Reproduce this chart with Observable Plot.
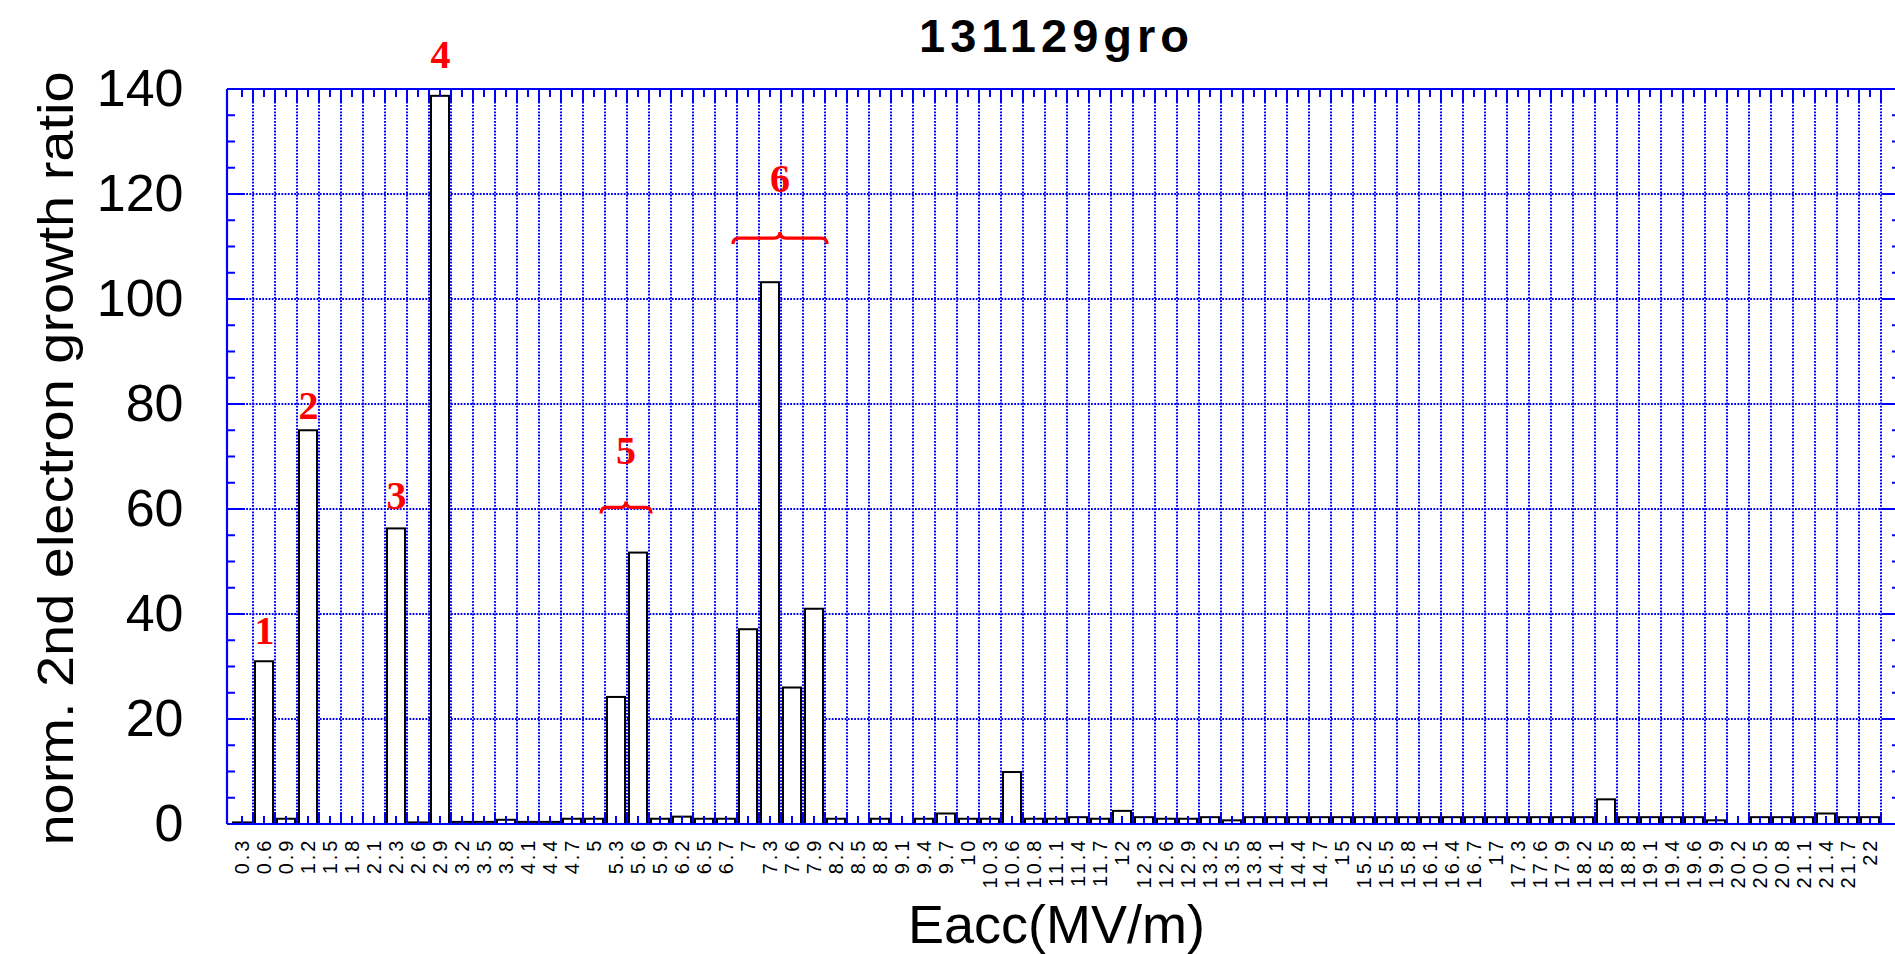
<!DOCTYPE html>
<html><head><meta charset="utf-8">
<script src="https://cdn.jsdelivr.net/npm/d3@7"></script>
<script src="https://cdn.jsdelivr.net/npm/@observablehq/plot@0.6"></script>
<style>
html,body{margin:0;padding:0;background:#fff;overflow:hidden;}
</style></head><body><div id="chart"></div>
<script>
// ---- data ----
const eacc = ["0.3","0.6","0.9","1.2","1.5","1.8","2.1","2.3","2.6","2.9",
  "3.2","3.5","3.8","4.1","4.4","4.7","5","5.3","5.6","5.9",
  "6.2","6.5","6.7","7","7.3","7.6","7.9","8.2","8.5","8.8",
  "9.1","9.4","9.7","10","10.3","10.6","10.8","11.1","11.4","11.7",
  "12","12.3","12.6","12.9","13.2","13.5","13.8","14.1","14.4","14.7",
  "15","15.2","15.5","15.8","16.1","16.4","16.7","17","17.3","17.6",
  "17.9","18.2","18.5","18.8","19.1","19.4","19.6","19.9","20.2","20.5",
  "20.8","21.1","21.4","21.7","22"];
const ratio = [0.3,31,1.0,75,0,0,0,56.3,0.3,138.7,
  0.4,0.4,0.8,0.4,0.4,1.0,1.0,24.2,51.7,1.0,
  1.4,1.0,1.0,37.1,103.2,26,41,1.0,0,1.0,
  0,1.0,2.0,1.0,1.0,9.9,1.0,1.0,1.3,1.0,
  2.5,1.3,1.0,1.0,1.3,0.7,1.3,1.3,1.3,1.3,
  1.3,1.3,1.3,1.3,1.3,1.3,1.3,1.3,1.3,1.3,
  1.3,1.3,4.7,1.3,1.3,1.3,1.3,0.7,0,1.3,
  1.3,1.3,2.0,1.3,1.3];
const yTicks = [0,20,40,60,80,100,120,140];
const peakLabels = ["1","2","3","4"];
const peakAt = ["0.6","1.2","2.3","2.9"];
const peakLabelY = [36.8,79.7,62.6,146.6];
const braceLabels = ["5","6"];
const braceFrom = ["5.3","7"];
const braceTo = ["5.6","7.9"];
const braceY = [60.3,111.6];
const braceLabelY = [71.3,123.1];
const titleText = "131129gro";
const xTitle = "Eacc(MV/m)";
const yTitle = "norm. 2nd electron growth ratio";

const BLUE = "#0000ff", RED = "#ff0000";
const data = eacc.map((e,i)=>({e, v: ratio[i]}));

function line(g, x1, y1, x2, y2, opts={}) {
  const l = g.append("line").attr("x1",x1).attr("y1",y1).attr("x2",x2).attr("y2",y2)
    .attr("stroke", opts.stroke || BLUE).attr("stroke-width", opts.width || 2);
  if (opts.dash) l.attr("stroke-dasharray", opts.dash);
  return l;
}

function gridMark(index, scales, values, dims) {
  const x = scales.x, y = scales.y;
  const g = d3.create("svg:g").attr("aria-label","grid");
  const bw = x.bandwidth(), step = x.step();
  const top = dims.marginTop, bottom = dims.height - dims.marginBottom;
  const left = dims.marginLeft, right = dims.width;
  eacc.forEach(c => {
    const bx = x(c) + bw/2 + step/2;
    line(g, bx, top, bx, bottom, {width:2, dash:"1.8 1.4"});
  });
  yTicks.filter(t => t > 0 && t < 140).forEach(t => {
    line(g, left, y(t), right, y(t), {width:2, dash:"1.8 1.4"});
  });
  return g.node();
}

function frameMark(index, scales, values, dims) {
  const x = scales.x, y = scales.y;
  const g = d3.create("svg:g").attr("aria-label","frame");
  const bw = x.bandwidth(), step = x.step();
  const top = dims.marginTop, bottom = dims.height - dims.marginBottom;
  const left = dims.marginLeft, right = dims.width;
  eacc.forEach(c => {
    const cx = x(c) + bw/2, bx = cx + step/2;
    line(g, cx, top, cx, top + 8, {width:2});
    line(g, bx, top, bx, top + 14, {width:2});
    line(g, cx, bottom, cx, bottom - 8, {width:2});
    line(g, bx, bottom, bx, bottom - 12, {width:2});
  });
  d3.range(0, 141, 5).forEach(t => {
    const major = t % 20 === 0;
    line(g, left, y(t), left + (major ? 18 : 8), y(t), {width:2});
    const rx = x(eacc[eacc.length-1]) + bw/2 + step/2 + 19;
    line(g, rx - (major ? 18 : 8), y(t), rx, y(t), {width:2});
  });
  line(g, left, top, right, top, {width:2.2});
  line(g, left, bottom, right, bottom, {width:2.2});
  line(g, left, top, left, bottom, {width:2.2});
  return g.node();
}

function braceMark(index, scales) {
  const x = scales.x, y = scales.y;
  const g = d3.create("svg:g").attr("aria-label","braces");
  const bw = x.bandwidth();
  braceLabels.forEach((lab, i) => {
    const x0 = x(braceFrom[i]) - 6, x1 = x(braceTo[i]) + bw + 4;
    const xm = (x0 + x1) / 2, yb = y(braceY[i]), h = 6;
    const d = `M${x0},${yb+h} Q${x0},${yb} ${x0+h},${yb} L${xm-h},${yb} Q${xm},${yb} ${xm},${yb-h} Q${xm},${yb} ${xm+h},${yb} L${x1-h},${yb} Q${x1},${yb} ${x1},${yb+h}`;
    g.append("path").attr("d", d).attr("fill","none").attr("stroke",RED).attr("stroke-width",3.2);
    g.append("text").attr("x", xm).attr("y", y(braceLabelY[i])).attr("dy","0.35em")
      .attr("text-anchor","middle").attr("fill",RED)
      .attr("font-family","'Liberation Serif','Times New Roman',serif")
      .attr("font-weight","bold").attr("font-size",40).text(lab);
  });
  return g.node();
}

function yTitleMark(index, scales, values, dims) {
  const top = dims.marginTop, bottom = dims.height - dims.marginBottom;
  const cy = (top + bottom) / 2 + 2;
  const t = d3.create("svg:text")
    .attr("transform", `translate(${dims.marginLeft - 172},${cy}) rotate(-90)`)
    .attr("text-anchor", "middle").attr("dy", "0.35em")
    .attr("font-size", 50).attr("fill", "black")
    .attr("textLength", 774).attr("lengthAdjust", "spacingAndGlyphs")
    .text(yTitle);
  return t.node();
}

const plot = Plot.plot({
  width: 1895, height: 954,
  marginLeft: 227, marginRight: 10, marginTop: 89, marginBottom: 130,
  style: {background: "white", fontFamily: "'Liberation Sans', Arial, sans-serif", overflow: "hidden"},
  x: {domain: eacc, paddingInner: 0.18, paddingOuter: 0.09, label: null, tickSize: 0, tickPadding: 13, tickRotate: -90},
  y: {domain: [0, 140], ticks: yTicks, label: null, tickSize: 0, tickPadding: 44},
  marks: [
    gridMark,
    Plot.barY(data.filter(d => d.v > 0), {x: "e", y: "v", fill: "white", stroke: "black", strokeWidth: 2}),
    frameMark,
    Plot.text(peakLabels, {x: (d,i) => peakAt[i], y: (d,i) => peakLabelY[i], text: d => d,
      fill: RED, fontFamily: "'Liberation Serif','Times New Roman',serif", fontWeight: "bold", fontSize: 40, lineAnchor: "middle"}),
    braceMark,
    Plot.text([titleText], {frameAnchor: "top", dy: -53, text: d => d, fontSize: 47, fontWeight: "bold", lineAnchor: "middle"}),
    Plot.text([xTitle], {frameAnchor: "bottom", dy: 101, text: d => d, fontSize: 54, lineAnchor: "middle"}),
    yTitleMark
  ]
});
document.getElementById("chart").appendChild(plot);
const svg = d3.select(plot);
svg.selectAll('g[aria-label^="y-axis"] text').style("font-size", "52px").attr("fill", "black");
svg.selectAll('g[aria-label^="x-axis"] text').style("font-size", "20px").style("letter-spacing", "3px");
svg.selectAll("text").each(function() {
  if (this.textContent === titleText) d3.select(this).style("letter-spacing", "5px");
});
</script></body></html>
